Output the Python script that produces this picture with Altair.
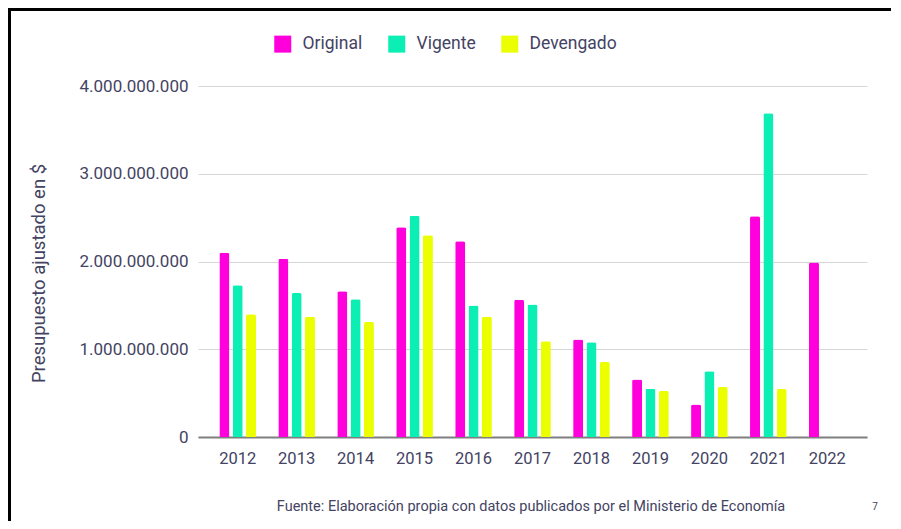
import altair as alt
import pandas as pd

years = ["2012", "2013", "2014", "2015", "2016", "2017", "2018", "2019", "2020", "2021", "2022"]
series = ["Original", "Vigente", "Devengado"]
original = [2.10e9, 2.03e9, 1.66e9, 2.39e9, 2.23e9, 1.565e9, 1.11e9, 0.656e9, 0.37e9, 2.515e9, 1.99e9]
vigente = [1.73e9, 1.64e9, 1.57e9, 2.52e9, 1.50e9, 1.51e9, 1.08e9, 0.55e9, 0.75e9, 3.69e9, None]
devengado = [1.40e9, 1.37e9, 1.31e9, 2.30e9, 1.37e9, 1.09e9, 0.855e9, 0.527e9, 0.57e9, 0.546e9, None]
colors = ["#FF00DD", "#0BEFB4", "#EBFF00"]
y_ticks = [0, 1e9, 2e9, 3e9, 4e9]
y_title = "Presupuesto ajustado en $"
caption = ["Fuente: Elaboración propia con datos publicados por el Ministerio de Economía"]
page_number = ["7"]

rows = []
for name, vals in zip(series, [original, vigente, devengado]):
    for yr, v in zip(years, vals):
        if v is not None:
            rows.append({"anio": yr, "serie": name, "valor": v})
df = pd.DataFrame(rows)

TXT = "#434363"
W, H = 669, 351

bars = alt.Chart(df).mark_bar(cornerRadiusTopLeft=2, cornerRadiusTopRight=2).encode(
    x=alt.X("anio:N", sort=years, title=None,
            scale=alt.Scale(paddingInner=0.378, paddingOuter=0.362),
            axis=alt.Axis(labelAngle=0, labelFontSize=16.5, labelColor=TXT, labelPadding=13,
                          ticks=False, domainColor="#7f7f7f", domainWidth=2, grid=False)),
    xOffset=alt.XOffset("serie:N", sort=series,
                        scale=alt.Scale(paddingInner=0.25, paddingOuter=0)),
    y=alt.Y("valor:Q", title=y_title,
            scale=alt.Scale(domain=[0, 4e9], nice=False),
            axis=alt.Axis(values=y_ticks, labelFontSize=17, labelColor=TXT, labelPadding=10,
                          labelExpr="replace(format(datum.value, ','), /,/g, '.')",
                          ticks=False, domain=False, gridColor="#d6d6d6", gridWidth=1,
                          titleFontSize=18.5, titleFontWeight="normal", titleColor=TXT,
                          titleX=-150, titleY=187)),
    color=alt.Color("serie:N", sort=series,
                    scale=alt.Scale(domain=series, range=colors),
                    legend=alt.Legend(title=None, orient="none", direction="horizontal",
                                      legendX=76, legendY=-51, symbolType="square",
                                      symbolSize=289, symbolStrokeWidth=0, labelFontSize=17.5,
                                      labelColor=TXT, labelOffset=11, columnPadding=25,
                                      padding=0)),
)

cap = alt.Chart(pd.DataFrame({"t": caption})).mark_text(
    fontSize=14.5, color=TXT, align="center", baseline="middle"
).encode(text="t:N", x=alt.value(333), y=alt.value(421))

num = alt.Chart(pd.DataFrame({"t": page_number})).mark_text(
    fontSize=10, color=TXT, align="center", baseline="middle"
).encode(text="t:N", x=alt.value(677), y=alt.value(420.5))

one = pd.DataFrame({"a": [0]})
top_rule = alt.Chart(one).mark_rule(color="black", strokeWidth=3).encode(
    x=alt.value(-191), x2=alt.value(W + 30), y=alt.value(-76.5))
left_rule = alt.Chart(one).mark_rule(color="black", strokeWidth=3).encode(
    x=alt.value(-188.5), y=alt.value(-78), y2=alt.value(H + 90))

chart = alt.layer(bars, cap, num, top_rule, left_rule).properties(
    width=W, height=H,
    padding={"left": 190, "top": 78, "right": 24, "bottom": 84},
    autosize=alt.AutoSizeParams(type="none"),
).configure(font="Roboto").configure_view(stroke=None)

chart.save("out.html", embed_options={"renderer": "svg", "actions": False})
